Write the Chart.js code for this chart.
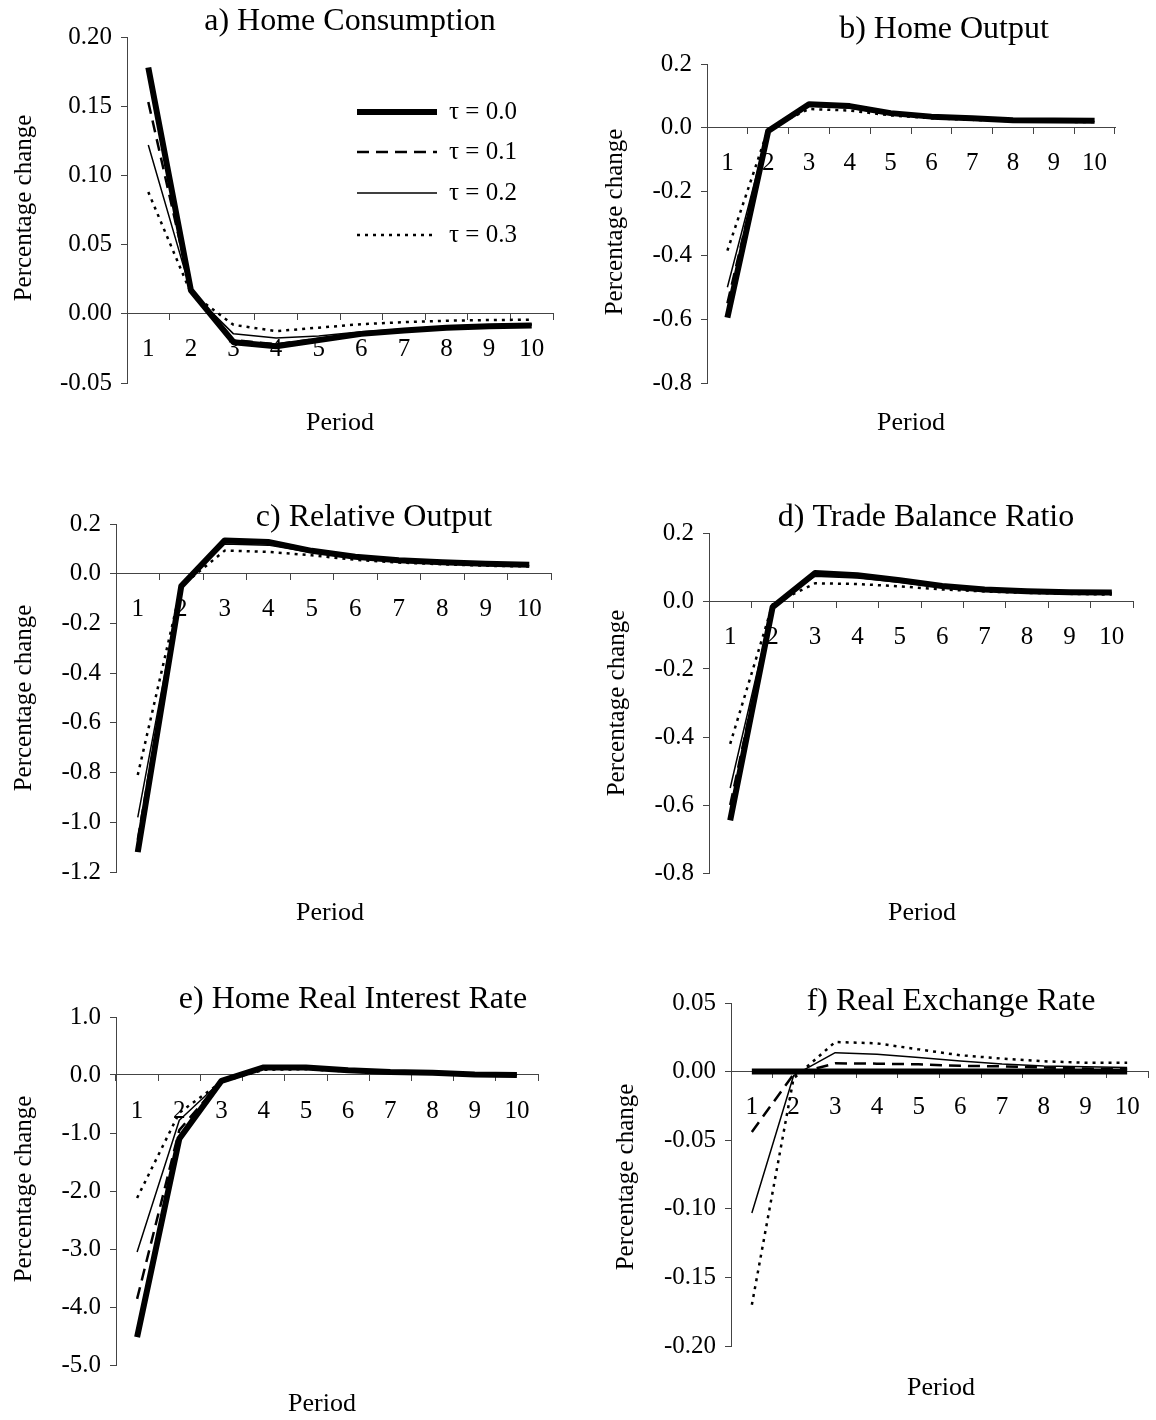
<!DOCTYPE html>
<html lang="en">
<head>
<meta charset="UTF-8">
<title>Impulse responses for different tau</title>
<script src="https://cdn.jsdelivr.net/npm/chart.js"></script>
<style>
  body { margin: 0; background: #fff; }
  #wrap { position: relative; width: 1156px; height: 1420px; background: #fff; }
  #wrap canvas { position: absolute; }
</style>
</head>
<body>
<div id="wrap"></div>
<script>
// x categories and series names
const periods = ['1', '2', '3', '4', '5', '6', '7', '8', '9', '10'];
const tauLabels = ['τ = 0.0', 'τ = 0.1', 'τ = 0.2', 'τ = 0.3'];
const panelTitles = [
  'a) Home Consumption', 'b) Home Output', 'c) Relative Output',
  'd) Trade Balance Ratio', 'e) Home Real Interest Rate', 'f) Real Exchange Rate'
];

// one row per tau, same order as tauLabels
const homeConsumption = [
  [0.178, 0.017, -0.0205, -0.0235, -0.019, -0.0145, -0.012, -0.010, -0.009, -0.0085],
  [0.153, 0.017, -0.019, -0.022, -0.018, -0.014, -0.0115, -0.0095, -0.0085, -0.008],
  [0.122, 0.016, -0.0145, -0.0175, -0.016, -0.013, -0.011, -0.009, -0.008, -0.0075],
  [0.088, 0.015, -0.008, -0.0125, -0.010, -0.0075, -0.006, -0.005, -0.0045, -0.0043]
];
const homeOutput = [
  [-0.595, -0.010, 0.074, 0.068, 0.046, 0.035, 0.030, 0.024, 0.023, 0.022],
  [-0.550, -0.008, 0.071, 0.065, 0.044, 0.034, 0.029, 0.024, 0.022, 0.021],
  [-0.500, -0.006, 0.068, 0.062, 0.042, 0.032, 0.027, 0.023, 0.021, 0.020],
  [-0.385, -0.004, 0.059, 0.054, 0.039, 0.030, 0.025, 0.021, 0.019, 0.018]
];
const relativeOutput = [
  [-1.12, -0.05, 0.134, 0.128, 0.092, 0.068, 0.054, 0.046, 0.040, 0.036],
  [-1.07, -0.05, 0.128, 0.122, 0.089, 0.066, 0.052, 0.044, 0.038, 0.034],
  [-0.98, -0.05, 0.120, 0.115, 0.085, 0.063, 0.050, 0.042, 0.036, 0.033],
  [-0.81, -0.05, 0.093, 0.088, 0.074, 0.056, 0.045, 0.038, 0.032, 0.029]
];
const tradeBalance = [
  [-0.645, -0.018, 0.082, 0.076, 0.061, 0.044, 0.034, 0.029, 0.026, 0.025],
  [-0.600, -0.016, 0.078, 0.072, 0.058, 0.042, 0.033, 0.028, 0.025, 0.024],
  [-0.550, -0.014, 0.073, 0.068, 0.055, 0.040, 0.031, 0.027, 0.024, 0.023],
  [-0.420, -0.010, 0.052, 0.050, 0.043, 0.034, 0.028, 0.024, 0.021, 0.019]
];
const realInterest = [
  [-4.52, -1.10, -0.10, 0.13, 0.13, 0.08, 0.05, 0.04, 0.01, 0.0],
  [-3.86, -0.95, -0.10, 0.12, 0.12, 0.07, 0.05, 0.04, 0.01, 0.0],
  [-3.05, -0.78, -0.10, 0.11, 0.11, 0.07, 0.04, 0.03, 0.01, 0.0],
  [-2.12, -0.65, -0.12, 0.09, 0.10, 0.06, 0.04, 0.03, 0.01, 0.0]
];
const realExchange = [
  [0, 0, 0, 0, 0, 0, 0, 0, 0, 0],
  [-0.044, -0.002, 0.006, 0.0058, 0.0053, 0.0042, 0.0038, 0.003, 0.0022, 0.0017],
  [-0.103, -0.003, 0.0138, 0.0126, 0.0102, 0.0078, 0.0055, 0.004, 0.0036, 0.003],
  [-0.170, -0.005, 0.0216, 0.0206, 0.0162, 0.0119, 0.0095, 0.0075, 0.0065, 0.0065]
];
const panelSeries = [homeConsumption, homeOutput, relativeOutput, tradeBalance, realInterest, realExchange];

// y axis ranges and tick format per panel
const yMin = [-0.05, -0.8, -1.2, -0.8, -5, -0.2];
const yMax = [0.2, 0.2, 0.2, 0.2, 1, 0.05];
const yStep = [0.05, 0.2, 0.2, 0.2, 1, 0.05];
const yDecimals = [2, 1, 1, 1, 1, 2];

const serif = '"Liberation Serif", "Times New Roman", serif';
Chart.defaults.font.family = serif;
Chart.defaults.font.size = 25;
Chart.defaults.color = '#000';

const lineStyles = [
  { borderWidth: 6, borderDash: [] },
  { borderWidth: 2.5, borderDash: [12, 7] },
  { borderWidth: 1.5, borderDash: [] },
  { borderWidth: 2.5, borderDash: [3, 5] }
];

// page positions of each panel (canvas box, plot edges, text anchors)
const panelLayout = [
  { box: [0, 0, 578, 470], left: 127, right: 553, top: 37, bottom: 383, title: [350, 22], yLab: [24, 208], xLab: [340, 423] },
  { box: [578, 0, 578, 470], left: 707, right: 1115, top: 64, bottom: 383, title: [944, 30], yLab: [615, 222], xLab: [911, 423] },
  { box: [0, 470, 578, 480], left: 116, right: 551, top: 524, bottom: 872, title: [374, 518], yLab: [24, 698], xLab: [330, 913] },
  { box: [578, 470, 578, 480], left: 709, right: 1133, top: 533, bottom: 873, title: [926, 518], yLab: [617, 703], xLab: [922, 913] },
  { box: [0, 950, 578, 470], left: 116, right: 538, top: 1017, bottom: 1365, title: [353, 1000], yLab: [24, 1189], xLab: [322, 1404] },
  { box: [578, 950, 578, 470], left: 731, right: 1148, top: 1003, bottom: 1346, title: [951, 1002], yLab: [626, 1177], xLab: [941, 1388] }
];

// title, "Percentage change" and "Period"
const panelText = {
  id: 'panelText',
  afterDraw(chart, args, opts) {
    const ctx = chart.ctx;
    ctx.save();
    ctx.fillStyle = '#000';
    ctx.textAlign = 'center';
    ctx.textBaseline = 'middle';
    ctx.font = '32px ' + serif;
    ctx.fillText(opts.title, opts.title_x, opts.title_y);
    ctx.font = '26px ' + serif;
    ctx.fillText('Period', opts.x_x, opts.x_y);
    ctx.translate(opts.y_x, opts.y_y);
    ctx.rotate(-Math.PI / 2);
    ctx.font = '25px ' + serif;
    ctx.fillText('Percentage change', 0, 0);
    ctx.restore();
  }
};

// legend inside panel a
const tauLegend = {
  id: 'tauLegend',
  afterDatasetsDraw(chart, args, opts) {
    if (!opts.show) return;
    const ctx = chart.ctx;
    ctx.save();
    chart.data.datasets.forEach((ds, k) => {
      const y = opts.rows[k];
      ctx.beginPath();
      ctx.lineWidth = ds.borderWidth;
      ctx.setLineDash(ds.borderDash);
      ctx.strokeStyle = ds.borderColor;
      ctx.moveTo(opts.x0, y);
      ctx.lineTo(opts.x1, y);
      ctx.stroke();
      ctx.setLineDash([]);
      ctx.fillStyle = '#000';
      ctx.font = '25px ' + serif;
      ctx.textAlign = 'left';
      ctx.textBaseline = 'middle';
      ctx.fillText(ds.label, opts.textX, y);
    });
    ctx.restore();
  }
};

const wrap = document.getElementById('wrap');

panelSeries.forEach((series, i) => {
  const L = panelLayout[i];
  const [cx, cy, cw, ch] = L.box;
  const canvas = document.createElement('canvas');
  canvas.width = cw;
  canvas.height = ch;
  canvas.style.left = cx + 'px';
  canvas.style.top = cy + 'px';
  wrap.appendChild(canvas);

  const yAxisWidth = L.left - cx;

  new Chart(canvas, {
    type: 'line',
    data: {
      labels: periods,
      datasets: series.map((vals, k) => ({
        label: tauLabels[k],
        data: vals,
        borderColor: '#000',
        borderWidth: lineStyles[k].borderWidth,
        borderDash: lineStyles[k].borderDash,
        borderJoinStyle: 'round',
        pointRadius: 0,
        tension: 0,
        fill: false
      }))
    },
    options: {
      responsive: false,
      animation: false,
      layout: {
        padding: { left: 0, top: L.top - cy, right: cx + cw - L.right, bottom: cy + ch - L.bottom }
      },
      scales: {
        x: {
          type: 'category',
          offset: true,
          position: { y: 0 },
          afterFit: s => { s.height = 0; },
          grid: { drawOnChartArea: false, offset: true, tickLength: 6, color: '#444', lineWidth: 1 },
          border: { color: '#444', width: 1 },
          ticks: { padding: 15, maxRotation: 0, autoSkip: false }
        },
        y: {
          min: yMin[i],
          max: yMax[i],
          afterFit: s => { s.width = yAxisWidth; },
          grid: { drawOnChartArea: false, tickLength: 6, color: '#444', lineWidth: 1 },
          border: { color: '#444', width: 1 },
          ticks: {
            stepSize: yStep[i],
            padding: 9,
            callback: v => (Math.abs(v) < 1e-9 ? 0 : v).toFixed(yDecimals[i])
          }
        }
      },
      plugins: {
        legend: { display: false },
        tooltip: { enabled: false },
        panelText: {
          title: panelTitles[i],
          title_x: L.title[0] - cx, title_y: L.title[1] - cy,
          y_x: L.yLab[0] - cx, y_y: L.yLab[1] - cy,
          x_x: L.xLab[0] - cx, x_y: L.xLab[1] - cy
        },
        tauLegend: { show: i === 0, x0: 357, x1: 437, textX: 449, rows: [112, 152, 193, 235] }
      }
    },
    plugins: [panelText, tauLegend]
  });
});
</script>
</body>
</html>
